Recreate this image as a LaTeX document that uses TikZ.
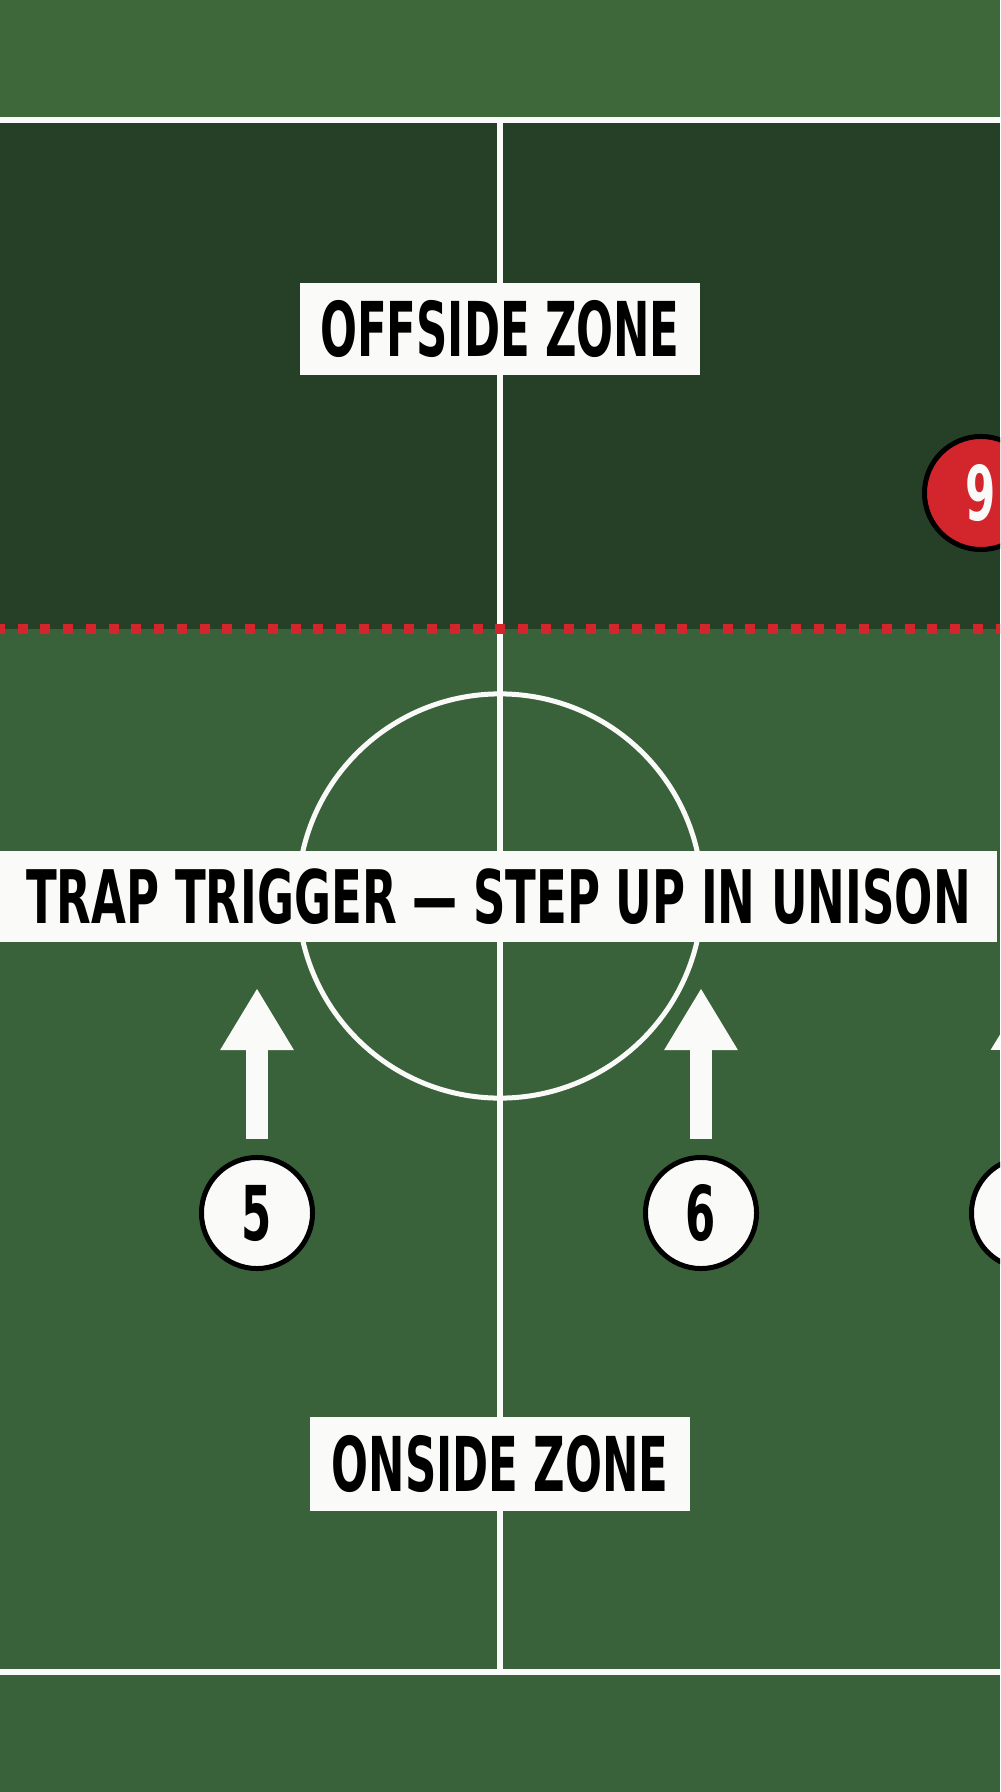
\documentclass[tikz,border=0pt]{standalone}
\usepackage{fontspec}
\newfontfamily\pitchfont[FakeStretch=0.575]{DejaVu Sans}
\newfontfamily\bannerfont[FakeStretch=0.61]{DejaVu Sans}
\usepackage{xcolor}
\usepackage{tikz}
\usetikzlibrary{arrows.meta}
\usetikzlibrary{positioning}

\definecolor{pitchgreen}{RGB}{58,98,58}
\definecolor{bandgreen}{RGB}{62,103,58}
\definecolor{offsidegreen}{RGB}{38,64,39}
\definecolor{flagred}{RGB}{211,38,44}
\definecolor{chalk}{RGB}{250,250,248}

\begin{document}
\begin{tikzpicture}[
	x=0.01cm,y=-0.01cm,
	font=\pitchfont\bfseries\fontsize{21.5pt}{24pt}\selectfont
]
\tikzset{
    zonelabel/.style = {rectangle, fill=chalk, text=black, inner sep=0pt, minimum height=0.92cm},
    player/.style = {circle, draw=black, line width=0.05cm, fill=chalk, text=black, inner sep=0pt, minimum size=1.11cm},
    pitchline/.style = {draw=chalk, line width=0.06cm},
    stepup/.style = {draw=chalk, line width=0.22cm, -{Triangle[length=0.62cm,width=0.69cm]}}
}
\useasboundingbox (0,0) rectangle (1000,1792);
\clip (0,0) rectangle (1000,1792);
\fill[pitchgreen] (0,0) rectangle (1000,1792);
\fill[bandgreen] (0,0) rectangle (1000,120);
\fill[offsidegreen] (0,120) rectangle (1000,629);
\draw[pitchline] (0,120) -- (1000,120);
\draw[pitchline] (0,1672) -- (1000,1672);
\draw[pitchline] (500,120) -- (500,1672);
\draw[pitchline, line width=0.05cm] (500,896) circle[radius=2.02cm];
\draw[flagred, line width=0.1cm, dash pattern=on 0.1cm off 0.12727cm] (-5,629) -- (1010,629);
\node[zonelabel, minimum width=4.0cm] (offside) at (500,329) {OFFSIDE ZONE};
\node[zonelabel, minimum width=9.97cm, minimum height=0.91cm,
      font=\bannerfont\bfseries\fontsize{21pt}{24pt}\selectfont] (trigger) at (498.5,896.5) {TRAP TRIGGER — STEP UP IN UNISON};
\node[zonelabel, minimum width=3.8cm, minimum height=0.94cm] (onside) at (500,1464) {ONSIDE ZONE};
\node[player] (p5) at (257,1213) {5};
\node[player] (p6) at (701,1213) {6};
\node[player] (p7) at (1027,1213) {};
\node[player, fill=flagred, text=chalk, minimum size=1.13cm] (p9) at (981,493) {9};
\coordinate (tip5) at (257,988);
\coordinate (tip6) at (701,988);
\coordinate (tip7) at (1028,988);
\draw[stepup] ([yshift=0.16cm]p5.north) -- (tip5);
\draw[stepup] ([yshift=0.16cm]p6.north) -- (tip6);
\draw[stepup] ([yshift=0.16cm]p7.north) -- (tip7);
\end{tikzpicture}
\end{document}
